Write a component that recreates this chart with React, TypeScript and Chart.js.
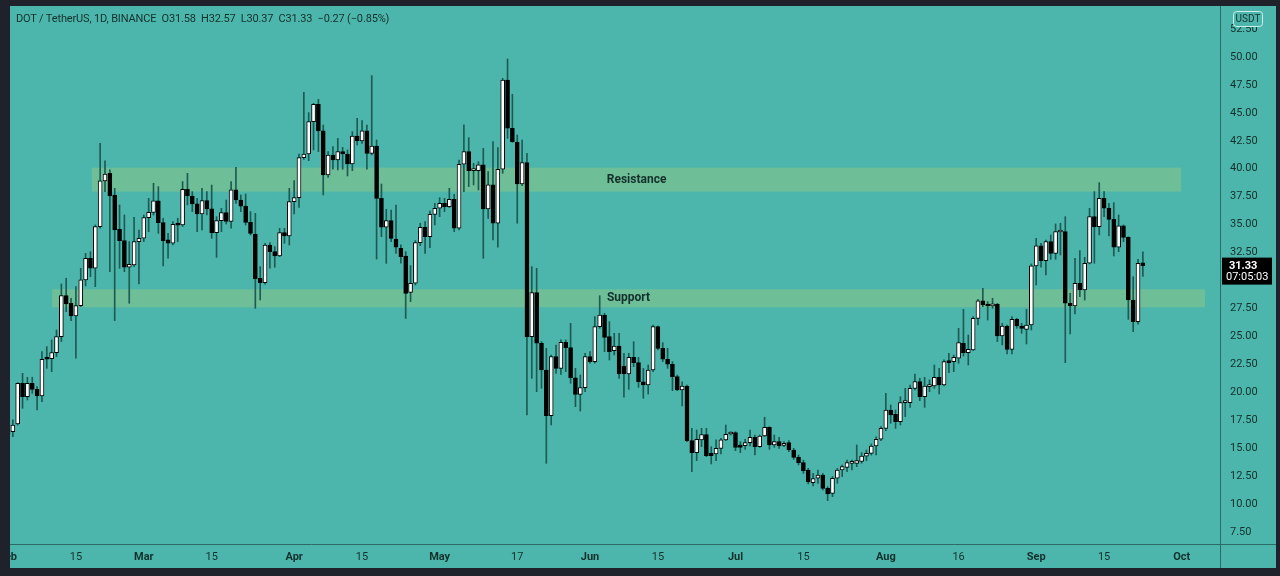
import React, { useEffect, useRef } from "react";
import { Chart, registerables } from "chart.js";

Chart.register(...registerables);

// Daily DOT/USDT candles, day 0 = 1 Feb
const opens = [16.18,16.47,17.16,20.80,19.61,20.80,20.26,19.67,23.07,23.01,23.54,24.98,28.64,27.96,26.82,27.75,30.05,31.99,31.09,34.82,38.91,39.59,37.65,34.58,33.57,31.18,31.39,33.48,33.78,35.62,36.10,37.12,35.18,33.63,33.33,35.03,34.97,38.16,37.56,36.85,35.95,37.14,36.40,34.28,35.35,36.07,35.29,38.10,37.20,36.66,35.20,34.16,30.19,29.80,33.17,32.58,32.19,34.28,33.98,37.05,37.41,40.99,41.32,44.21,45.76,43.38,39.44,41.23,40.78,41.53,41.32,40.42,42.93,42.48,43.38,41.38,42.03,37.35,34.76,35.35,33.71,32.88,32.19,28.94,29.75,33.39,34.76,33.92,35.92,36.46,36.91,36.61,37.26,34.67,40.40,41.53,39.83,39.83,40.34,36.40,38.55,35.12,39.95,47.94,43.62,42.36,38.64,40.54,24.97,28.91,24.38,21.99,17.90,23.18,22.14,24.47,23.99,21.30,19.81,20.41,23.18,22.74,25.87,26.91,24.97,23.72,24.14,22.35,21.63,23.12,22.65,20.94,20.65,21.99,25.87,23.93,22.95,22.50,21.39,20.20,20.56,15.67,14.59,15.73,16.20,14.53,14.47,14.98,15.73,16.26,16.38,15.28,15.22,15.49,15.97,15.13,16.08,16.86,15.28,15.58,15.25,15.49,14.83,14.17,13.70,13.04,11.91,12.30,12.59,11.40,10.95,12.30,13.04,13.28,13.64,13.64,13.82,14.29,14.53,15.19,15.79,16.77,18.41,18.02,17.37,19.07,19.07,20.35,20.95,19.60,20.50,20.56,21.33,20.65,22.83,22.74,23.04,24.38,23.54,23.78,26.61,28.17,27.87,27.72,27.87,25.03,25.93,23.84,26.53,25.93,25.63,26.02,31.30,33.09,31.77,33.47,32.43,34.34,34.37,27.96,27.72,29.75,29.15,31.54,35.71,34.82,37.35,36.46,35.47,32.97,34.88,33.86,28.25,26.31,31.58];
const highs = [16.92,17.52,20.86,21.69,21.34,21.34,20.50,23.63,24.08,24.68,25.57,29.69,30.20,28.41,29.45,31.09,32.43,32.58,34.97,42.28,40.70,39.89,38.25,36.76,35.86,33.48,35.65,34.52,35.86,37.35,38.70,38.40,35.57,34.22,35.27,35.57,38.85,39.59,37.95,37.35,38.25,37.95,38.54,35.71,36.46,37.20,38.84,40.12,37.65,37.74,36.16,36.01,31.24,33.32,33.38,33.03,34.67,34.67,38.25,38.93,41.32,46.84,45.02,45.85,46.21,43.91,41.53,41.97,42.72,41.91,41.68,43.32,44.51,44.30,43.91,48.33,42.57,38.63,36.37,36.31,36.75,33.20,32.58,31.33,33.57,35.12,35.27,36.22,36.91,37.41,37.35,38.25,37.71,40.78,43.92,42.78,40.48,40.63,41.83,39.74,42.42,41.89,48.09,49.82,46.66,43.02,42.57,41.38,31.24,31.09,24.53,23.93,23.33,24.23,24.68,24.68,26.17,22.14,21.54,23.48,23.63,26.76,28.64,27.06,26.32,25.27,25.27,23.48,23.48,24.53,23.12,22.14,22.44,26.02,25.93,24.44,23.93,22.74,21.54,20.94,20.65,16.77,16.62,16.77,16.77,15.13,15.73,15.88,17.07,16.47,16.47,15.58,15.79,16.62,16.17,16.17,17.76,16.92,16.17,15.97,15.58,15.67,14.98,14.38,13.93,13.19,12.74,13.04,12.74,11.55,12.45,13.19,13.49,13.94,13.94,15.28,14.59,14.83,15.37,16.02,16.92,19.90,18.86,18.41,19.60,20.35,20.65,21.63,21.25,21.33,21.10,22.44,22.14,22.89,23.48,23.33,25.72,27.42,25.12,26.76,28.32,29.30,28.11,28.41,27.96,26.17,26.02,26.76,26.61,26.17,27.42,31.48,33.77,33.33,33.62,34.07,35.06,35.12,35.71,28.85,31.98,32.67,32.07,36.46,37.95,38.75,37.95,36.91,36.96,35.86,34.97,33.92,30.34,31.89,32.57];
const lows = [15.88,16.03,17.07,18.56,19.31,19.90,18.41,19.16,22.14,21.84,23.19,24.53,27.21,26.41,23.04,27.66,29.51,30.34,29.45,34.67,37.95,30.79,26.41,31.09,30.79,27.96,31.24,29.69,33.48,34.37,35.86,34.22,31.30,31.99,33.18,33.48,34.82,36.76,36.16,34.37,34.52,35.86,33.77,32.07,34.37,35.05,34.67,36.90,36.16,34.96,34.07,27.51,28.25,29.68,31.09,31.18,32.13,33.32,33.17,35.95,36.54,40.84,40.72,41.68,41.53,37.65,39.23,39.95,39.89,39.95,39.35,39.83,42.12,42.27,39.95,41.23,31.92,33.92,31.53,33.47,32.43,31.54,26.60,28.11,29.60,33.12,32.43,32.94,34.97,35.71,36.16,36.52,34.37,34.52,37.95,38.40,38.55,38.10,31.98,35.56,33.62,32.97,39.59,42.72,42.36,35.12,38.49,17.96,21.24,20.05,20.35,13.64,17.07,21.69,21.60,21.84,20.80,18.71,18.32,20.05,22.59,22.59,25.72,23.63,22.88,23.33,21.24,19.55,20.26,22.29,20.44,19.46,19.84,21.84,23.78,22.74,22.14,20.14,20.14,18.77,15.57,12.89,13.88,15.13,14.23,13.58,13.88,14.47,15.67,16.17,14.77,14.59,14.89,15.19,14.38,15.07,16.02,14.89,15.07,14.98,15.13,14.68,13.99,13.49,12.74,11.79,11.61,11.85,11.25,10.30,10.66,11.85,12.45,12.89,13.04,13.34,13.64,13.88,14.38,14.38,15.67,16.56,17.22,16.77,17.07,17.82,18.65,20.20,19.25,18.65,20.05,20.35,19.84,20.56,21.75,21.84,22.59,23.24,22.44,23.72,26.02,27.66,26.46,27.51,24.53,24.23,23.42,23.42,25.72,25.27,24.32,25.57,29.60,31.18,30.49,31.89,31.89,32.28,22.65,25.21,27.00,28.55,28.25,31.48,31.54,34.07,35.71,33.98,32.19,32.58,33.47,26.52,25.42,26.10,30.37];
const closes = [16.62,17.07,20.80,19.61,20.80,20.26,19.67,22.95,22.95,23.54,24.98,28.64,27.90,26.82,27.75,30.05,31.99,31.09,34.82,38.91,39.53,37.56,34.52,33.57,31.18,31.45,33.48,33.78,35.62,36.10,37.12,35.18,33.57,33.33,35.03,34.94,38.16,37.56,36.85,35.95,37.15,36.40,34.28,35.35,36.07,35.29,38.10,37.20,36.66,35.20,34.22,30.13,29.80,33.17,32.58,32.19,34.28,33.98,37.05,37.41,40.99,41.32,44.21,45.76,43.38,39.44,41.23,40.78,41.53,41.32,40.42,42.93,42.48,43.38,41.38,42.03,37.35,34.76,35.35,33.77,32.97,32.13,28.85,29.75,33.39,34.76,33.92,35.92,36.46,36.91,36.61,37.26,34.67,40.40,41.53,39.83,39.95,40.34,36.40,38.55,35.12,39.95,47.94,43.62,42.42,38.64,40.54,24.97,28.91,24.38,21.99,17.90,23.18,22.14,24.47,23.99,21.30,19.81,20.41,23.18,22.74,25.87,26.91,24.91,23.63,24.14,21.63,21.63,23.12,22.65,20.94,20.65,21.99,25.87,23.93,22.95,22.50,21.39,20.20,20.56,15.67,14.59,15.79,16.20,14.32,14.32,14.98,15.73,16.23,16.38,15.07,15.07,15.49,15.97,15.13,16.08,16.86,15.28,15.58,15.19,15.43,14.83,14.17,13.70,12.98,11.97,12.27,12.59,11.40,10.89,12.30,13.04,13.34,13.70,13.79,13.88,14.29,14.53,15.19,15.79,16.77,18.41,17.96,17.37,19.07,19.13,20.35,20.95,19.60,20.56,20.56,21.33,20.65,22.74,22.65,23.12,24.44,23.54,23.84,26.61,28.17,27.81,27.72,27.90,25.03,25.93,23.84,26.53,25.93,25.72,26.02,31.30,33.09,31.77,33.47,32.43,34.37,34.43,27.96,27.72,29.75,29.15,31.54,35.71,34.82,37.35,36.46,35.47,32.97,34.88,33.86,28.25,26.31,31.54,31.33];

const xTickDays = [0, 14, 28, 42, 59, 73, 89, 105, 120, 134, 150, 164, 181, 196, 212, 226, 242];
const xTickLabels = ["Feb", "15", "Mar", "15", "Apr", "15", "May", "17", "Jun", "15", "Jul", "15", "Aug", "16", "Sep", "15", "Oct"];
const yTickValues = [7.5, 10, 12.5, 15, 17.5, 20, 22.5, 25, 27.5, 30, 32.5, 35, 37.5, 40, 42.5, 45, 47.5, 50, 52.5];

const zoneNames = ["Resistance", "Support"];
const zoneLows = [37.95, 27.6];
const zoneHighs = [40.09, 29.21];
const zoneStartDays = [17.3, 9.1];
const zoneEndDays = [241.9, 246.8];

const lastPrice = 31.33;
const countdown = "07:05:03";
const titleText = "DOT / TetherUS, 1D, BINANCE  O31.58  H32.57  L30.37  C31.33  \u22120.27 (\u22120.85%)";

const TEAL = "#4db6ac";
const DARK = "#1f222a";
const TEXT = "#14302c";
const FONT = "Roboto, 'Noto Sans', sans-serif";

const decorPlugin = {
  id: "decor",
  beforeDatasetsDraw(chart: any) {
    const { ctx, scales } = chart;
    const xs = scales.x, ys = scales.y;
    ctx.save();
    for (let i = 0; i < zoneNames.length; i++) {
      const x1 = xs.getPixelForValue(zoneStartDays[i]);
      const x2 = xs.getPixelForValue(zoneEndDays[i]);
      const y1 = ys.getPixelForValue(zoneHighs[i]);
      const y2 = ys.getPixelForValue(zoneLows[i]);
      ctx.fillStyle = "#6ebf98";
      ctx.fillRect(x1, y1, x2 - x1, y2 - y1);
      ctx.fillStyle = TEXT;
      ctx.font = `bold 12px ${FONT}`;
      ctx.textAlign = "center";
      ctx.textBaseline = "middle";
      ctx.fillText(zoneNames[i], (x1 + x2) / 2, (y1 + y2) / 2);
    }
    ctx.restore();
  },
  afterDraw(chart: any) {
    const { ctx, chartArea, scales, width, height } = chart;
    const ys = scales.y;
    ctx.save();
    ctx.strokeStyle = "#2c6b65";
    ctx.lineWidth = 1;
    ctx.beginPath();
    ctx.moveTo(chartArea.right + 0.5, 0);
    ctx.lineTo(chartArea.right + 0.5, height);
    ctx.moveTo(0, chartArea.bottom + 0.5);
    ctx.lineTo(width, chartArea.bottom + 0.5);
    ctx.stroke();

    // USDT badge
    const bx = chartArea.right + 13;
    ctx.fillStyle = TEAL;
    ctx.strokeStyle = "#cfeeea";
    ctx.beginPath();
    (ctx as any).roundRect(bx + 0.5, 5.5, 29, 15, 3);
    ctx.fill();
    ctx.stroke();
    ctx.fillStyle = TEXT;
    ctx.font = `10px ${FONT}`;
    ctx.textAlign = "center";
    ctx.textBaseline = "middle";
    ctx.fillText("USDT", bx + 15, 13.5);

    // last price label
    const py = ys.getPixelForValue(lastPrice);
    const lx = chartArea.right + 2;
    ctx.fillStyle = "#000000";
    ctx.fillRect(lx, py - 8, 50, 27);
    ctx.fillStyle = "#ffffff";
    ctx.textAlign = "left";
    ctx.font = `bold 11px ${FONT}`;
    ctx.fillText(lastPrice.toFixed(2), lx + 7, py + 0.5);
    ctx.font = `11px ${FONT}`;
    ctx.fillText(countdown, lx + 4, py + 12);
    ctx.restore();
  },
};

export default function App() {
  const ref = useRef<HTMLCanvasElement | null>(null);

  useEffect(() => {
    document.body.style.margin = "0";
    const canvas = ref.current;
    if (!canvas) return;
    const idx = opens.map((_, i) => i);
    const wickData = idx.map((i) => ({ x: i, y: [lows[i], highs[i]] }));
    const bodyData = idx.map((i) => ({ x: i, y: [opens[i], closes[i]] }));
    const bodyColors = idx.map((i) => (closes[i] >= opens[i] ? "#ffffff" : "#000000"));

    const chart = new Chart(canvas, {
      type: "bar",
      data: {
        datasets: [
          {
            label: "wick",
            data: wickData as any,
            backgroundColor: "#1d5a53",
            barThickness: 1,
            grouped: false,
            order: 1,
          } as any,
          {
            label: "body",
            data: bodyData as any,
            backgroundColor: bodyColors,
            borderColor: "#000000",
            borderWidth: 1,
            borderSkipped: false,
            barThickness: 4,
            minBarLength: 2,
            grouped: false,
            order: 0,
          } as any,
        ],
      },
      options: {
        animation: false,
        responsive: false,
        devicePixelRatio: 1,
        layout: { padding: 0 },
        plugins: { legend: { display: false }, tooltip: { enabled: false } },
        scales: {
          x: {
            type: "linear",
            offset: false,
            min: -3.711,
            max: 249.9,
            grid: { display: false, drawTicks: false },
            border: { display: false },
            afterFit: (s: any) => { s.height = 24; s.paddingLeft = 0; s.paddingRight = 0; },
            afterBuildTicks: (s: any) => { s.ticks = xTickDays.map((v) => ({ value: v })); },
            ticks: {
              autoSkip: false,
              maxRotation: 0,
              padding: 7,
              color: TEXT,
              font: (c: any) => ({
                family: FONT,
                size: 11,
                weight: /^[A-Z]/.test(xTickLabels[c.index] || "") ? "bold" : "normal",
              }),
              callback: (_v: any, i: number) => xTickLabels[i],
            },
          },
          y: {
            type: "linear",
            position: "right",
            min: 6.42,
            max: 54.56,
            grid: { display: false, drawTicks: false },
            border: { display: false },
            afterFit: (s: any) => { s.width = 56; s.paddingTop = 0; s.paddingBottom = 0; },
            afterBuildTicks: (s: any) => { s.ticks = yTickValues.map((v) => ({ value: v })); },
            ticks: {
              padding: 10,
              color: TEXT,
              font: { family: FONT, size: 11 },
              callback: (v: any) => Number(v).toFixed(2),
            },
          },
        },
      } as any,
      plugins: [decorPlugin],
    });
    return () => chart.destroy();
  }, []);

  return (
    <div style={{ position: "fixed", left: 0, top: 0, width: 1280, height: 576, background: DARK, overflow: "hidden" }}>
      <div style={{ position: "absolute", left: 10, top: 6, width: 1266, height: 562, background: TEAL, overflow: "hidden" }}>
        <canvas ref={ref} width={1286} height={562} style={{ position: "absolute", left: -20, top: 0, width: 1286, height: 562 }} />
        <div style={{ position: "absolute", left: 6, top: 6, font: `11px ${FONT}`, letterSpacing: "-0.15px", color: TEXT, whiteSpace: "pre" }}>{titleText}</div>
      </div>
    </div>
  );
}
